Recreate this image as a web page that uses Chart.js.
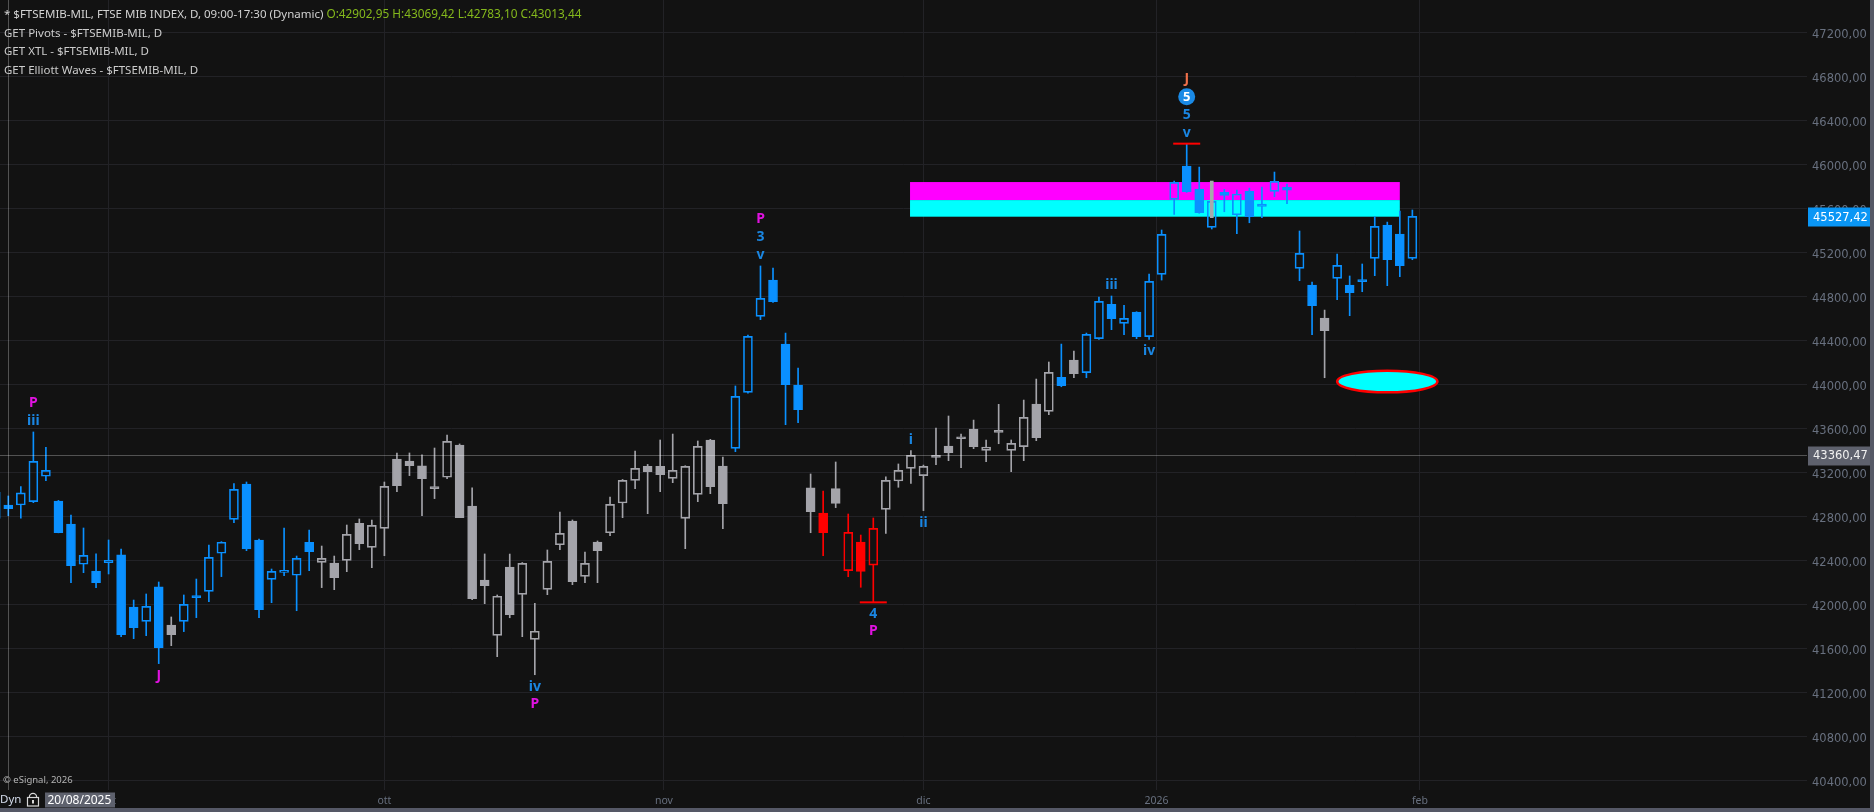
<!DOCTYPE html>
<html><head><meta charset="utf-8">
<script src="https://cdn.jsdelivr.net/npm/chart.js@4.4.1/dist/chart.umd.min.js"></script>
<style>html,body{margin:0;padding:0;background:#121212;overflow:hidden}canvas{display:block}</style>
</head><body>
<canvas id="c" width="1874" height="812"></canvas>
<script>
// ---------- DATA ----------
const opens = [43018,42903,42902.95,42933,43164,42939,42730,42364,42303,42379,
42449,41976,41845,42158,41812,41845,42073,42118,42464,42773,
43094,42585,42227,42291,42264,42564,42382,42376,42400,42736,
42518,42691,43321,43303,43258,43067,43155,43448,42894,42221,
41718,42339,42090,41682,42136,42542,42757,42254,42567,42651,
42921,43127,43254,43254,43145,42782,43000,43494,43257,43418,
43927,44618,44948,44366,43994,43058,42830,43052,42306,42567,
42357,42863,43121,43236,43170,43348,43439,43521,43594,43400,
43575,43400,43433,43821,43754,44063,44221,44106,44415,44727,
44554,44657,44433,45000,45682,45985,45776,45427,45745,45542,
45754,45618,45754,45766,45054,44903,44603,44963,44903,44948,
45145,45448,45366,45145];
const highs = [43040,42985,43069.42,43567,43427,42945,42812,42694,42458,42585,
42503,42039,42094,42203,41885,42085,42230,42539,42570,43097,
43112,42594,42321,42694,42439,42676,42530,42439,42721,42776,
42767,43112,43376,43376,43358,43421,43539,43458,43058,42458,
42085,42457,42380,42009,42494,42839,42767,42476,42576,42976,
43135,43394,43272,43494,43548,43260,43485,43500,43339,43985,
44448,45076,45057,44466,44148,43185,43030,43294,42821,42630,
42785,43160,43276,43397,43266,43603,43712,43548,43675,43494,
43818,43494,43857,44048,44203,44366,44303,44466,44794,44803,
44718,44660,45003,45403,45848,46188,45975,45712,45772,45766,
45784,45794,45930,45821,45394,44930,44675,45184,44985,45094,
45524,45475,45575,45585];
const lows = [42770,42806,42783.10,42924,43124,42650,42197,42288,42152,42276,
41706,41688,41715,41461,41624,41752,41879,42024,42252,42742,
42488,41879,42015,42261,41942,42306,42152,42133,42297,42497,
42333,42442,43024,43170,42806,42961,43142,42788,42042,42006,
41524,41878,41706,41360,42088,42497,42179,42197,42197,42624,
42788,43051,42824,43024,43106,42506,42933,43006,42688,43388,
43920,44588,44745,43633,43651,42651,42442,42879,42251,42155,
42018,42645,43064,43100,42852,43269,43306,43242,43415,43297,
43460,43206,43306,43488,43724,43978,44060,44060,44409,44497,
44451,44415,44409,44948,45545,45745,45555,45412,45569,45369,
45469,45515,45706,45642,44942,44451,44060,44769,44624,44842,
44988,44897,44979,45133];
const closes = [42782,42870,43013.44,43300,43218,42652,42352,42445,42197,42400,
41724,41788,41982,41606,41724,42000,42061,42427,42564,43045,
42503,41952,42300,42309,42418,42479,42418,42242,42636,42552,
42718,43073,43079,43261,43142,43052,43482,42788,42052,42170,
42073,41906,42372,41755,42391,42645,42206,42372,42488,42909,
43127,43236,43206,43179,43218,43254,43436,43070,42915,43891,
44436,44782,44751,43996,43769,42842,42651,42918,42654,42300,
42691,43127,43218,43354,43254,43336,43379,43505,43433,43430,
43563,43463,43700,43515,44109,43987,44097,44454,44754,44597,
44600,44433,44936,45363,45836,45751,45560,45663,45718,45730,
45524,45639,45845,45790,45191,44715,44488,45081,44833,44933,
45436,45133,45078,45527.42];
// indicator state per candle: b = blue, g = neutral, r = red
const colorCodes = ("bbbbbbbbbb"+"bbbbgbbbbb"+"bbbbbbgggg"+"gggggggggg"+"gggggggggg"+
  "gggggggggb"+"bbbbbgrgrr"+"rggggggggg"+"gggggbgbbb"+"bbbbbbbbbb"+"bbbbbbgbbb"+"bbbb").split('');

const yTickValues = [40400,40800,41200,41600,42000,42400,42800,43200,43600,44000,44400,44800,45200,45600,46000,46400,46800,47200];
const monthTickIdx = [9, 31, 53.3, 74, 92.6, 113.6];
const monthLabels = ['set','ott','nov','dic','2026','feb'];

const lastPrice = 45527.42;
const crosshairPrice = 43360.47;
const crosshairIdx = 1;
const crosshairDate = '20/08/2025';

const zoneIdx = [72.93, 112.0];
const zoneUpper = [45675, 45839];   // magenta band
const zoneLower = [45524, 45675];   // cyan band
const targetIdx = [107, 115];
const targetVal = [43927, 44124];
const xtlBar = {i: 97, lo: 45515, hi: 45848};
const lowMarkerIdx = 70, highMarkerIdx = 95;

const waveLabels = [
  {i: 3,  side: 'above', items: [{t:'iii',k:'wave'},{t:'P',k:'pivot'}]},
  {i: 13, side: 'below', items: [{t:'J',k:'pivot'}]},
  {i: 43, side: 'below', items: [{t:'iv',k:'wave'},{t:'P',k:'pivot'}]},
  {i: 61, side: 'above', items: [{t:'v',k:'wave'},{t:'3',k:'wave'},{t:'P',k:'pivot'}]},
  {i: 70, side: 'below', items: [{t:'4',k:'wave'},{t:'P',k:'pivot'}]},
  {i: 73, side: 'above', items: [{t:'i',k:'wave'}]},
  {i: 74, side: 'below', items: [{t:'ii',k:'wave'}]},
  {i: 89, side: 'above', items: [{t:'iii',k:'wave'}]},
  {i: 92, side: 'below', items: [{t:'iv',k:'wave'}]},
  {i: 95, side: 'above', items: [{t:'v',k:'wave'},{t:'5',k:'wave'},{t:'5',k:'circle'},{t:'J',k:'major'}]}
];

const titleMain = '* $FTSEMIB-MIL, FTSE MIB INDEX, D, 09:00-17:30 (Dynamic)';
const titleOHLC = 'O:42902,95 H:43069,42 L:42783,10 C:43013,44';
const studyLines = ['GET Pivots - $FTSEMIB-MIL, D','GET XTL - $FTSEMIB-MIL, D','GET Elliott Waves - $FTSEMIB-MIL, D'];

// ---------- STYLE ----------
const BG = '#121212', GRID = '#222226', AXIS = '#68707f';
const COL = {b:'#0a90ff', g:'#a4a4aa', r:'#ff0000'};
const KIND = {wave:'#1a86e2', pivot:'#e012e0', major:'#f0704a', circle:'#1a8ae6'};
const fmt = v => v.toFixed(2).replace('.', ',');

const xMin = 0.3382, xMax = 144.48;
const yMin = 40312, yMax = 47494;

const bodyData = opens.map((o,i)=>({x:i, y:[o, closes[i]]}));
const upperWick = highs.map((h,i)=>({x:i, y:[Math.max(opens[i], closes[i]), h]}));
const lowerWick = lows.map((l,i)=>({x:i, y:[l, Math.min(opens[i], closes[i])]}));

const overlay = {
  id: 'overlay',
  beforeDraw(chart){
    const c = chart.ctx; c.save(); c.fillStyle = BG; c.fillRect(0,0,chart.width,chart.height); c.restore();
  },
  beforeDatasetsDraw(chart){
    const c = chart.ctx, xs = chart.scales.x, ys = chart.scales.y, a = chart.chartArea;
    c.save();
    c.beginPath(); c.rect(a.left,a.top,a.right-a.left,a.bottom-a.top); c.clip();
    const x0 = xs.getPixelForValue(zoneIdx[0]), x1 = xs.getPixelForValue(zoneIdx[1]);
    c.fillStyle = '#ff00ff';
    let t = ys.getPixelForValue(zoneUpper[1]), b = ys.getPixelForValue(zoneUpper[0]);
    c.fillRect(x0, t, x1-x0, b-t);
    c.fillStyle = '#00ffff';
    t = ys.getPixelForValue(zoneLower[1]); b = ys.getPixelForValue(zoneLower[0]);
    c.fillRect(x0, t, x1-x0, b-t);
    c.restore();
  },
  afterDatasetsDraw(chart){
    const c = chart.ctx, xs = chart.scales.x, ys = chart.scales.y, a = chart.chartArea;
    c.save();
    // crosshair
    c.strokeStyle = 'rgba(255,255,255,0.27)'; c.lineWidth = 1;
    const cy = Math.round(ys.getPixelForValue(crosshairPrice)) + 0.5;
    c.beginPath(); c.moveTo(a.left, cy); c.lineTo(a.right, cy); c.stroke();
    const cx = Math.round(xs.getPixelForValue(crosshairIdx)) + 0.5;
    c.beginPath(); c.moveTo(cx, 0); c.lineTo(cx, a.bottom); c.stroke();
    // red markers
    c.fillStyle = '#ff0000';
    let mx = xs.getPixelForValue(lowMarkerIdx), my = ys.getPixelForValue(lows[lowMarkerIdx]);
    c.fillRect(mx-13.5, my-1, 27, 2);
    mx = xs.getPixelForValue(highMarkerIdx); my = ys.getPixelForValue(highs[highMarkerIdx]);
    c.fillRect(mx-13.5, my-1, 27, 2);
    // wave labels
    c.textAlign = 'center'; c.textBaseline = 'middle';
    waveLabels.forEach(l => {
      const x = xs.getPixelForValue(l.i);
      const base = l.side === 'above' ? ys.getPixelForValue(highs[l.i]) : ys.getPixelForValue(lows[l.i]);
      l.items.forEach((it,k) => {
        const y = l.side === 'above' ? base - 11 - k*18 : base + 12 + k*17;
        if (it.k === 'circle') {
          c.fillStyle = KIND.circle; c.beginPath(); c.arc(x, y, 8.5, 0, Math.PI*2); c.fill();
          c.fillStyle = '#ffffff'; c.font = 'bold 13px "Noto Sans"'; c.fillText(it.t, x, y+0.5);
        } else {
          c.fillStyle = KIND[it.k]; c.font = 'bold 14px "Noto Sans"'; c.fillText(it.t, x, y);
        }
      });
    });
    // target ellipse
    const ex0 = xs.getPixelForValue(targetIdx[0]), ex1 = xs.getPixelForValue(targetIdx[1]);
    const ey0 = ys.getPixelForValue(targetVal[1]), ey1 = ys.getPixelForValue(targetVal[0]);
    c.beginPath();
    c.ellipse((ex0+ex1)/2, (ey0+ey1)/2, (ex1-ex0)/2, (ey1-ey0)/2, 0, 0, Math.PI*2);
    c.fillStyle = '#00ffff'; c.fill();
    c.strokeStyle = '#ff0000'; c.lineWidth = 2.5; c.stroke();
    c.restore();
  },
  afterDraw(chart){
    const c = chart.ctx, ys = chart.scales.y, a = chart.chartArea;
    c.save();
    // header texts
    c.textAlign = 'left'; c.textBaseline = 'middle';
    c.font = '11.5px "Noto Sans"';
    c.fillStyle = '#d2d2d2';
    c.fillText(titleMain, 4, 14.5);
    const w = c.measureText(titleMain + ' ').width;
    c.fillStyle = '#84b81c';
    c.font = '11.8px "Noto Sans"';
    c.fillText(titleOHLC, 4 + w, 14.5);
    c.font = '11.5px "Noto Sans"';
    c.fillStyle = '#cccccc';
    studyLines.forEach((s,k) => c.fillText(s, 4, 33.5 + k*18.7));
    // price boxes on axis
    c.font = '11.5px "DejaVu Sans"';
    let y = ys.getPixelForValue(lastPrice);
    c.fillStyle = '#0a96f5'; c.fillRect(a.right+1, Math.round(y)-8.5, 1870-a.right-1, 19);
    c.fillStyle = '#ffffff'; c.fillText(fmt(lastPrice), a.right+6, y+1.5);
    y = ys.getPixelForValue(crosshairPrice);
    c.fillStyle = '#5e616d'; c.fillRect(a.right+1, Math.round(y)-8.5, 1870-a.right-1, 19);
    c.fillStyle = '#f0f0f0'; c.fillText(fmt(crosshairPrice), a.right+6, y+1.5);
    // bottom-left elements
    c.font = '9.5px "Noto Sans"'; c.fillStyle = '#b4b4b4';
    c.fillText('\u00A9 eSignal, 2026', 3, 780);
    c.fillStyle = '#5e616d'; c.fillRect(45, 792.5, 70, 15);
    c.font = '12px "Noto Sans"'; c.fillStyle = '#ffffff';
    c.fillText(crosshairDate, 47.5, 800.5);
    c.fillStyle = '#d4dcec'; c.font = '11.5px "Noto Sans"'; c.fillText('Dyn', 0, 800);
    // lock icon
    c.strokeStyle = '#d8d8d8'; c.lineWidth = 1.2;
    c.strokeRect(27.5, 797.5, 11, 8.5);
    c.beginPath(); c.arc(33, 797, 3.6, Math.PI, 0); c.stroke();
    c.fillStyle = '#d8d8d8'; c.fillRect(32, 800, 2, 3.5);
    // frame strips
    c.fillStyle = '#555866';
    c.fillRect(0, 808, 1874, 4);
    c.fillRect(1870, 0, 4, 812);
    c.restore();
  }
};

const candleColor = ctx => COL[colorCodes[ctx.dataIndex]];

new Chart(document.getElementById('c'), {
  type: 'bar',
  data: {
    datasets: [
      { label: 'xtl', data: [{x: xtlBar.i, y: [xtlBar.lo, xtlBar.hi]}], order: -1, grouped: false,
        barThickness: 3, backgroundColor: '#a8a8ac', borderWidth: 0 },
      { label: 'body', data: bodyData, order: 0, grouped: false, barThickness: 9, minBarLength: 2,
        borderWidth: 1, borderSkipped: false,
        backgroundColor: ctx => (closes[ctx.dataIndex] > opens[ctx.dataIndex]) ? 'rgba(0,0,0,0)' : candleColor(ctx),
        borderColor: candleColor },
      { label: 'upper wick', data: upperWick, order: 1, grouped: false, barThickness: 1,
        borderWidth: 0, backgroundColor: candleColor },
      { label: 'lower wick', data: lowerWick, order: 1, grouped: false, barThickness: 1,
        borderWidth: 0, backgroundColor: candleColor }
    ]
  },
  options: {
    responsive: false, animation: false, devicePixelRatio: 1,
    layout: { padding: 0 },
    plugins: { legend: { display: false }, tooltip: { enabled: false } },
    scales: {
      x: { type: 'linear', min: xMin, max: xMax, offset: false,
        grid: { color: GRID, drawTicks: false, offset: false }, border: { display: false },
        ticks: { autoSkip: false, maxRotation: 0, padding: 5, color: AXIS,
          font: { family: 'Noto Sans', size: 10.5 },
          callback: (v, idx) => monthLabels[idx] },
        afterBuildTicks: s => { s.ticks = monthTickIdx.map(v => ({value: v})); },
        afterFit: s => { s.height = 22; s.paddingLeft = 0; s.paddingRight = 0; } },
      y: { type: 'linear', position: 'right', min: yMin, max: yMax,
        grid: { color: GRID, drawTicks: false }, border: { display: false },
        ticks: { autoSkip: false, padding: 5, labelOffset: 2.5, color: AXIS,
          font: { family: 'DejaVu Sans', size: 11.5 },
          callback: v => fmt(v) },
        afterBuildTicks: s => { s.ticks = yTickValues.map(v => ({value: v})); },
        afterFit: s => { s.width = 67; s.paddingTop = 0; s.paddingBottom = 0; } }
    }
  },
  plugins: [overlay]
});
</script>
</body></html>
